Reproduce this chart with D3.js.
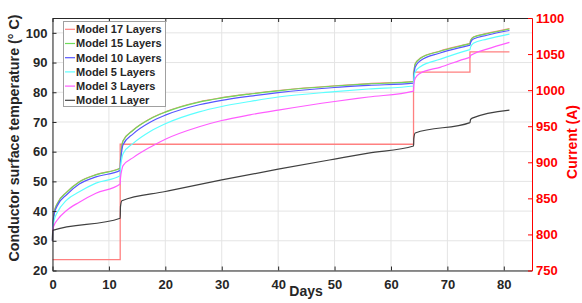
<!DOCTYPE html>
<html><head><meta charset="utf-8">
<script src="https://cdn.jsdelivr.net/npm/d3@7"></script>
<style>
body{margin:0;background:#fff;}
svg{display:block;font-family:"Liberation Sans",Arial,sans-serif;font-weight:bold;}
</style></head>
<body><svg id="c" width="582" height="303"></svg>
<script>
// ---- data ----
const days = [0,0.03,0.3,0.85,2.5,4.75,7.7,12,12.05,12.3,12.5,14.3,17.3,20,26,30,35,40,50,56,64,64.05,64.3,65.2,68.7,73.7,74,74.1,74.6,77,81];
const model15 = [30,33.7,39.5,42.5,46.3,49.8,52.2,54.4,57,62,63.6,67.2,71,73.3,76.7,78.1,79.4,80.5,82.1,82.8,83.6,86,89.5,91.4,93.8,96.2,96.35,97.3,98.5,99.7,101.3];
const model17 = [30,33.7,39.6,42.6,46.4,49.9,52.3,54.5,57.1,62.1,63.7,67.3,71.1,73.4,76.8,78.2,79.5,80.6,82.2,82.9,83.7,86.1,89.6,91.5,93.9,96.3,96.45,97.4,98.6,99.8,101.4];
const model10 = [30,33.7,39,41.8,45.5,49.1,51.5,53.7,56,60.5,62.3,66,69.9,72.3,75.8,77.3,78.7,79.9,81.6,82.3,83.1,85,88.5,90.6,93.2,95.7,95.85,96.7,97.9,99.2,100.8];
const model5 = [30,33.7,37,39.5,43.7,46.5,49.4,51.9,54.5,57.8,59.3,62.8,66.8,69.4,73.4,75.2,76.9,78.4,80.2,81.1,82.1,84,86.9,88.6,91.1,94.2,94.35,95.2,96.5,97.9,99.6];
const model3 = [30,33.7,35.3,37,40.2,43,46,49.1,51,54,55.3,58,61.5,64.2,68.4,70.5,72.4,74,76.9,78.4,80.4,82.5,84.7,86.4,88.4,91.6,91.75,92.3,92.9,94.5,96.8];
const model1Days = [0,0.03,12,12.05,12.3,20,30,40,50,56,64,64.05,64.3,74,74.1,74.4,81];
const model1 = [30,33.5,37.6,41.5,43.5,46.6,50.5,54.1,57.5,59.5,61.9,64.5,66.3,69.8,70.8,71.3,74];
const currentDays = [0,12,64,74,81];
const current = [765,925,1025,1053,1053];
const xTicks = [0,10,20,30,40,50,60,70,80];
const yTicks = [20,30,40,50,60,70,80,90,100];
const y2Ticks = [750,800,850,900,950,1000,1050,1100];
const legendNames = ["Model 17 Layers","Model 15 Layers","Model 10 Layers","Model 5 Layers","Model 3 Layers","Model 1 Layer"];
const colors = ["#ff8080","#6fdc5a","#5656ff","#5cffff","#ff5cff","#404040"];

// ---- layout ----
const L=52.5, R=532, T=18, B=270.5;
const svg = d3.select("#c");
const x = d3.scaleLinear().domain([0,85]).range([L,R]);
const y = d3.scaleLinear().domain([20,105]).range([B,T]);
const y2 = d3.scaleLinear().domain([750,1100]).range([B,T]);
const ink = "#262626", red = "#ff0000";

// grid
const g = svg.append("g");
g.selectAll(".gx").data(xTicks).join("line").attr("x1",d=>x(d)).attr("x2",d=>x(d)).attr("y1",T).attr("y2",B).attr("stroke","#e4e4e4");
g.selectAll(".gy").data(yTicks).join("line").attr("y1",d=>y(d)).attr("y2",d=>y(d)).attr("x1",L).attr("x2",R).attr("stroke","#e4e4e4");

// curves
const line = d3.line().curve(d3.curveMonotoneX);
const series = [
  {dx:days, v:model17, c:colors[0]},
  {dx:days, v:model15, c:colors[1]},
  {dx:days, v:model10, c:colors[2]},
  {dx:days, v:model5, c:colors[3]},
  {dx:days, v:model3, c:colors[4]},
  {dx:model1Days, v:model1, c:colors[5]},
];
// current (right axis)
svg.append("path").attr("d", d3.line().curve(d3.curveStepAfter)(currentDays.map((d,i)=>[x(d),y2(current[i])])))
  .attr("fill","none").attr("stroke",colors[0]).attr("stroke-width",1.3);
series.forEach(s=>{
  svg.append("path").attr("d", line(s.dx.map((d,i)=>[x(d),y(s.v[i])])))
    .attr("fill","none").attr("stroke",s.c).attr("stroke-width",1.2);
});

// axes
function style(sel,col){
  sel.selectAll("path").attr("stroke",col);
  sel.selectAll("line").attr("stroke",col);
  sel.selectAll("text").attr("fill",col).style("font-size","13px").style("font-family","'Liberation Sans',Arial,sans-serif").style("font-weight","bold");
}
const ax = svg.append("g").attr("transform",`translate(0,${B})`).call(d3.axisBottom(x).tickValues(xTicks).tickSizeInner(-4).tickSizeOuter(0).tickPadding(9));
style(ax,ink);
const axt = svg.append("g").attr("transform",`translate(0,${T})`).call(d3.axisTop(x).tickValues(xTicks).tickSizeInner(-4).tickSizeOuter(0).tickFormat(""));
style(axt,ink);
const ay = svg.append("g").attr("transform",`translate(${L},0)`).call(d3.axisLeft(y).tickValues(yTicks).tickSizeInner(-4).tickSizeOuter(0).tickPadding(5));
style(ay,ink);
const ay2 = svg.append("g").attr("transform",`translate(${R},0)`).call(d3.axisRight(y2).tickValues(y2Ticks).tickFormat(d3.format("d")).tickSizeInner(-4).tickSizeOuter(0).tickPadding(4));
style(ay2,red);

// titles
svg.append("text").attr("x",306).attr("y",296).attr("text-anchor","middle").attr("fill",ink).style("font-size","14px").text("Days");
svg.append("text").attr("transform","translate(19,138) rotate(-90)").attr("text-anchor","middle").attr("fill",ink).style("font-size","14.3px").text("Conductor surface temperature (° C)");
svg.append("text").attr("transform","translate(572.5,142) rotate(-90)").attr("text-anchor","middle").attr("dy","0.35em").attr("fill",red).style("font-size","14px").text("Current (A)");

// legend
const lg = svg.append("g");
lg.append("rect").attr("x",63.5).attr("y",21.5).attr("width",102).attr("height",85).attr("fill","#fff").attr("stroke","#a0a0a0");
legendNames.forEach((n,i)=>{
  const yy = 29.3 + i*14.2;
  lg.append("line").attr("x1",65).attr("x2",75).attr("y1",yy).attr("y2",yy).attr("stroke",colors[i]).attr("stroke-width",1.2);
  lg.append("text").attr("x",76).attr("y",yy).attr("dy","0.35em").attr("fill",ink).style("font-size","11px").text(n);
});
</script></body></html>
